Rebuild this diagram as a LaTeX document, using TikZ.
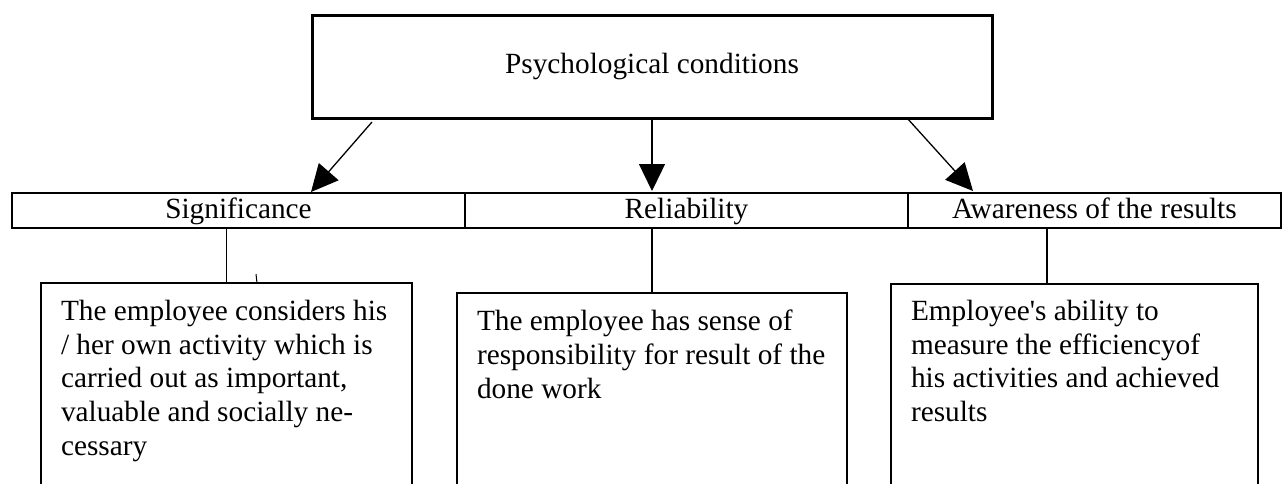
\documentclass[tikz,border=0pt]{standalone}
\usepackage{fontspec}
\setmainfont{Liberation Serif}
\usetikzlibrary{arrows.meta}
\begin{document}
\begin{tikzpicture}[x=1pt,y=-1pt,
  txt/.style={font=\fontsize{29.3}{33.7}\selectfont},
  topbox/.style={draw, line width=3pt, minimum width=680pt, minimum height=103pt, inner sep=0pt, outer sep=0pt, txt},
  cell/.style={draw, line width=2pt, minimum height=35pt, text height=25pt, text depth=9pt, inner sep=0pt, outer sep=0pt, anchor=north west, txt},
  descbox/.style={draw, line width=1.3pt, anchor=north west, inner sep=0pt, outer sep=0pt},
  desctext/.style={anchor=north west, inner sep=0pt, outer sep=0pt, align=left, txt},
  conn/.style={line width=1.3pt},
  arr/.style={conn, -{Triangle[length=27pt,width=26pt]}}
]
\useasboundingbox (0,0) rectangle (1282,483);
\clip (0,0) rectangle (1282,483);
\fill[white] (0,0) rectangle (1282,483);

% top box
\node[topbox] (top) at (652,66.5) {Psychological conditions};

% row of three cells
\node[cell, minimum width=453pt] (s1) at (12,193) {Significance};
\node[cell, minimum width=443pt] (s2) at (465,193) {Reliability};
\node[cell, minimum width=373pt] (s3) at (908,193) {Awareness of the results};

% description boxes (run past the lower edge)
\node[descbox, minimum width=371pt, minimum height=240pt] (b1) at (41,283) {};
\node[descbox, minimum width=390pt, minimum height=240pt] (b2) at (457,293) {};
\node[descbox, minimum width=367pt, minimum height=240pt] (b3) at (891,284) {};

\node[desctext] (t1) at ([xshift=20pt,yshift=-17pt]b1.north west)
  {The employee considers his\\ / her own activity which is\\ carried out as important,\\ valuable and socially ne-\\ cessary};
\node[desctext] (t2) at ([xshift=20pt,yshift=-17pt]b2.north west)
  {The employee has sense of\\ responsibility for result of the\\ done work};
\node[desctext] (t3) at ([xshift=20pt,yshift=-16pt]b3.north west)
  {Employee\textquotesingle s ability to\\ measure the efficiencyof\\ his activities and achieved\\ results};

% arrows from the top box
\draw[arr] ([xshift=60pt,yshift=-4pt]top.south west) -- ([xshift=72.5pt,yshift=1pt]s1.north);
\draw[arr] ([yshift=-2pt]top.south) -- ([xshift=-34.5pt,yshift=2pt]s2.north);
\draw[arr] ([xshift=-85pt]top.south east) -- ([xshift=-121.5pt,yshift=2pt]s3.north);

% connectors from the cells to the boxes
\draw[conn] (s1.south -| b1.north) -- (b1.north);
\draw[conn] (s2.south -| b2.north) -- (b2.north);
\draw[conn] ([xshift=-27.5pt]b3.north |- s3.south) -- ([xshift=-27.5pt]b3.north);

% small stray tick
\coordinate (tk) at ([xshift=30.5pt]b1.north);
\draw[line width=1pt] (tk) -- ++(-1,-9);
\end{tikzpicture}
\end{document}
